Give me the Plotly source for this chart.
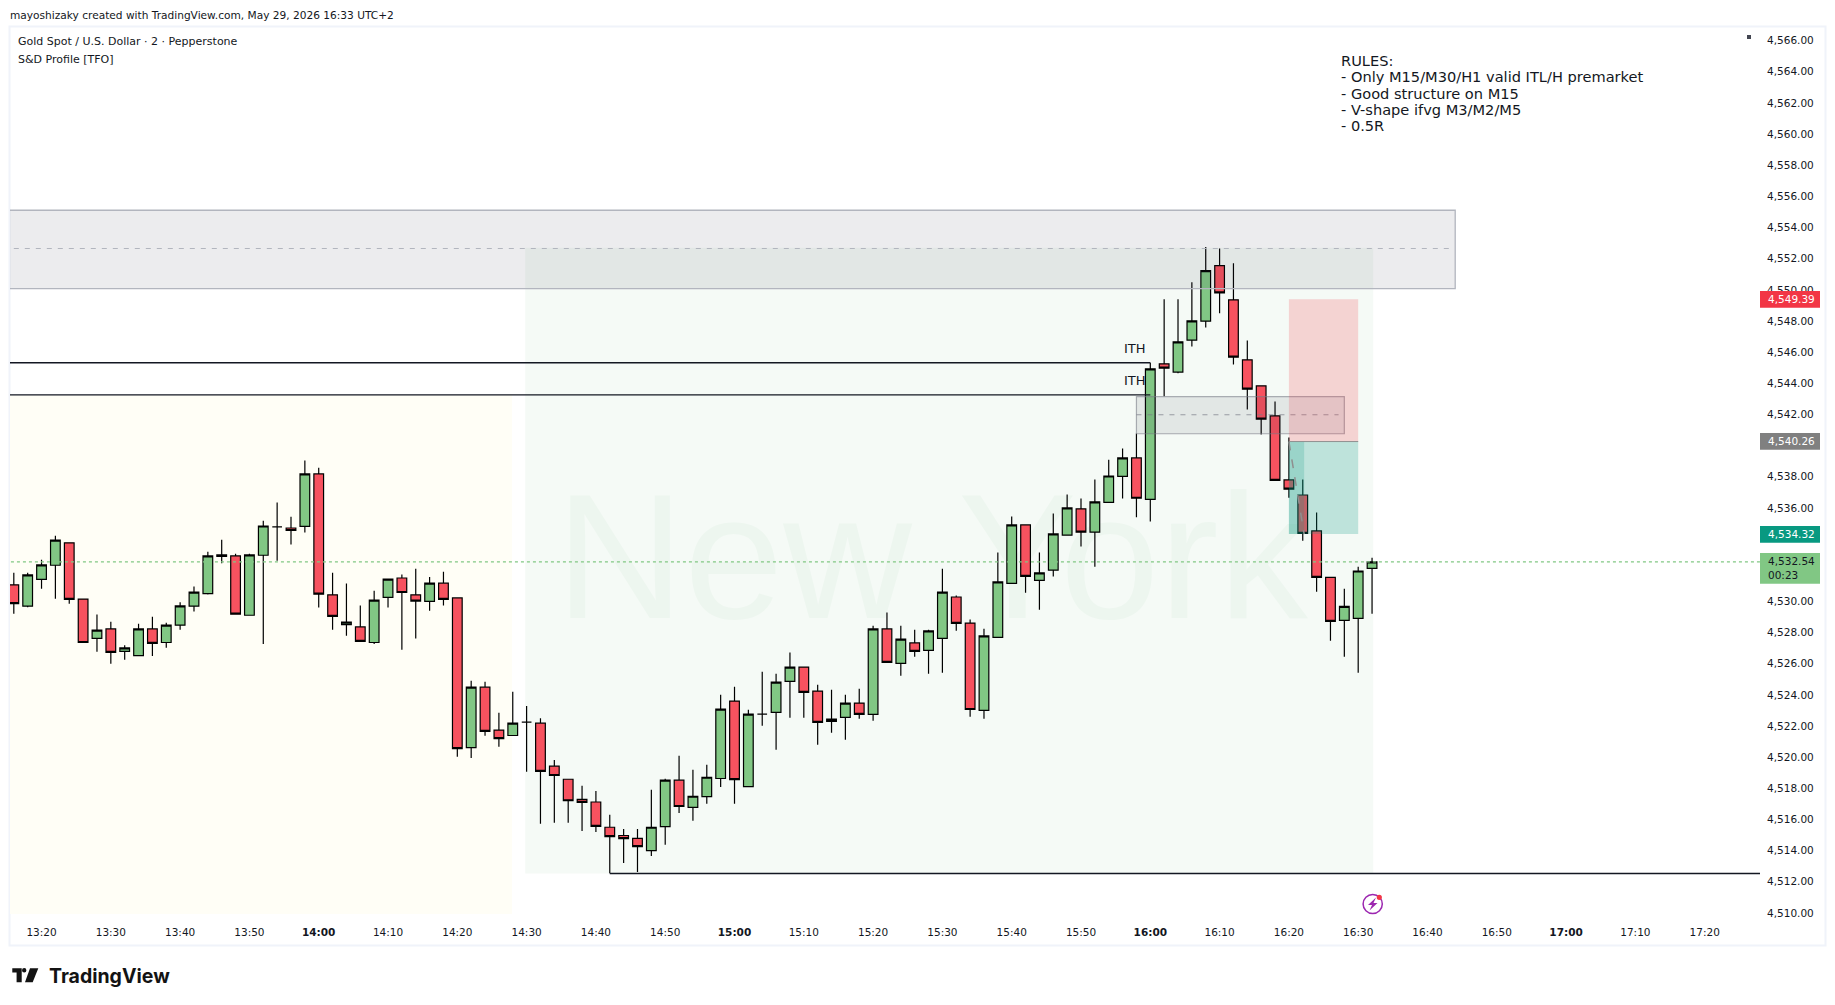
import pandas as pd
import plotly.graph_objects as go

open_ = [4531.06,4529.69,4531.41,4532.32,4533.76,4530.15,4527.63,4528.23,4526.79,4526.52,4528.23,4527.36,4528.47,4529.69,4530.50,4532.98,4532.92,4529.11,4532.96,4534.78,4534.71,4534.82,4538.18,4530.42,4528.51,4528.36,4527.36,4530.26,4531.50,4530.42,4530.00,4531.17,4530.22,4520.61,4524.49,4521.74,4521.39,4522.25,4522.18,4519.42,4518.58,4517.29,4517.12,4515.50,
 4514.97,4514.79,4514.00,4515.54,4518.52,4516.77,4517.47,4518.63,4523.60,4518.11,4522.76,4522.87,4524.86,4525.78,4524.24,4522.29,4522.55,4523.47,4522.74,4528.23,4526.02,4527.33,4526.86,4527.63,4530.28,4528.61,4523.00,4527.69,4531.16,4534.91,4531.35,4532.00,4534.25,4535.94,4534.44,
 4536.36,4538.03,4539.21,4536.55,4545.25,4544.72,4546.77,4547.99,4551.55,4549.36,4545.51,4543.84,4541.91,4537.80,4536.83,4534.52,4531.54,4528.78,4528.91,4532.12]
high = [4531.83,4531.83,4532.67,4534.22,4533.76,4530.15,4529.15,4528.69,4527.19,4528.56,4529.02,4528.62,4529.95,4530.95,4533.18,4533.96,4533.05,4533.05,4535.17,4536.35,4535.44,4539.05,4538.58,4531.83,4531.15,4529.73,4530.68,4531.43,4531.72,4532.10,4531.57,4531.90,4530.22,4524.91,4524.84,4522.85,4524.20,4523.29,4522.49,4519.82,4518.58,4518.16,4517.82,4516.30,
 4515.39,4515.39,4517.90,4518.61,4520.09,4519.19,4519.51,4524.01,4524.52,4523.04,4525.48,4525.36,4526.71,4525.78,4524.65,4524.33,4524.01,4524.39,4528.44,4529.28,4528.44,4528.18,4528.18,4532.10,4530.37,4528.83,4528.25,4533.13,4535.45,4534.91,4533.13,4535.64,4536.86,4536.60,4537.82,
 4539.10,4539.81,4540.77,4545.32,4549.39,4549.39,4550.48,4552.75,4552.66,4551.70,4546.75,4543.84,4542.83,4540.52,4537.82,4535.70,4531.54,4530.81,4532.23,4532.80]
low = [4529.20,4529.62,4530.81,4530.17,4529.84,4527.36,4526.76,4525.99,4526.26,4526.52,4526.50,4527.03,4528.18,4529.35,4530.44,4532.45,4529.18,4529.11,4527.27,4532.61,4533.65,4534.42,4529.60,4528.18,4527.80,4527.43,4527.27,4529.60,4526.90,4527.61,4529.40,4529.73,4520.02,4519.95,4521.37,4520.66,4521.39,4519.06,4515.72,4515.79,4515.79,4515.26,4515.19,4512.54,
 4513.21,4512.63,4513.66,4514.37,4516.42,4515.91,4517.00,4518.09,4517.00,4518.11,4522.01,4520.47,4522.53,4522.53,4520.79,4521.56,4521.11,4522.46,4522.34,4526.08,4525.23,4526.45,4525.36,4525.42,4528.12,4522.59,4522.46,4527.69,4531.16,4530.56,4529.47,4531.59,4534.25,4533.52,4532.23,
 4536.36,4536.60,4535.40,4535.12,4543.17,4544.65,4546.37,4547.59,4548.49,4545.21,4542.32,4540.71,4537.77,4536.66,4533.90,4530.62,4527.47,4526.44,4525.41,4529.21]
close = [4529.86,4531.70,4532.34,4533.93,4530.13,4527.36,4528.16,4526.72,4527.01,4528.23,4527.30,4528.47,4529.71,4530.59,4532.92,4532.89,4529.18,4532.98,4534.84,4534.78,4534.55,4538.18,4530.46,4529.04,4528.67,4527.43,4530.08,4531.43,4530.57,4530.02,4531.17,4530.13,4520.55,4524.49,4521.65,4521.19,4522.18,4522.25,4519.09,4518.82,4517.20,4517.09,4515.55,4514.90,
 4514.77,4514.26,4515.50,4518.52,4516.83,4517.49,4518.71,4523.08,4518.56,4522.76,4522.76,4524.82,4525.78,4524.16,4522.23,4522.44,4523.47,4522.74,4528.23,4526.08,4527.58,4526.79,4528.10,4530.60,4528.59,4523.06,4527.78,4531.25,4534.91,4531.61,4531.83,4534.33,4536.00,4534.44,4536.39,
 4538.05,4539.21,4536.62,4544.93,4544.97,4546.66,4548.01,4551.23,4549.81,4545.68,4543.62,4541.70,4537.77,4537.20,4534.37,4531.54,4528.71,4529.68,4531.95,4532.54]
times = pd.date_range("2026-05-29 13:16", periods=len(close), freq="2min").strftime("%Y-%m-%d %H:%M:%S").tolist()

y_ticks = [4566,4564,4562,4560,4558,4556,4554,4552,4550,4548,4546,4544,4542,4538,4536,4530,4528,4526,4524,4522,4520,4518,4516,4514,4512,4510]
x_tick_times = ["13:20","13:30","13:40","13:50","14:00","14:10","14:20","14:30","14:40","14:50","15:00","15:10","15:20","15:30","15:40","15:50","16:00","16:10","16:20","16:30","16:40","16:50","17:00","17:10","17:20"]
rules = ["RULES:","- Only M15/M30/H1 valid ITL/H premarket","- Good structure on M15","- V-shape ifvg M3/M2/M5","- 0.5R"]

DAY = "2026-05-29 "
TEXT = "#131722"
FONT = "DejaVu Sans"
L, R, T, B = 10, 1760, 28, 914
X_RANGE = [DAY + "13:15:27", DAY + "17:27:59"]
Y_RANGE = [4509.93, 4566.81]
ZONE_FILL = "rgba(45,48,70,0.09)"

def px(v): return (v - L) / (R - L)
def py(v): return (B - v) / (B - T)

shapes, anns = [], []

def rect(x0, x1, y0, y1, fill, line=None, w=1, layer="above"):
    shapes.append(dict(type="rect", xref="x", yref="y", x0=DAY + x0, x1=DAY + x1, y0=y0, y1=y1, fillcolor=fill,
                       line=dict(color=line, width=w) if line else dict(width=0), layer=layer))

def hline(x0, x1, y, color, w=1.2, dash="solid", layer="above"):
    shapes.append(dict(type="line", xref="x", yref="y", x0=DAY + x0, x1=DAY + x1, y0=y, y1=y,
                       line=dict(color=color, width=w, dash=dash), layer=layer))

def box_px(x0, x1, y0, y1, fill):
    shapes.append(dict(type="rect", xref="paper", yref="paper", x0=px(x0), x1=px(x1), y0=py(y0), y1=py(y1),
                       fillcolor=fill, line=dict(width=0), layer="above"))

def label(x, y, text, size=10.5, color=TEXT, family=FONT, anchor="left"):
    anns.append(dict(xref="paper", yref="paper", x=px(x), y=py(y), text=text, showarrow=False, xanchor=anchor, yanchor="middle",
                     font=dict(size=size, color=color, family=family), align="left", borderpad=0, borderwidth=0))

def path_px(points, fill):
    d = "M " + " L ".join(f"{px(a):.5f},{py(b):.5f}" for a, b in points) + " Z"
    shapes.append(dict(type="path", xref="paper", yref="paper", path=d, fillcolor=fill, line=dict(width=0), layer="above"))

def circle_px(cx, cy, r, fill, line=None, w=1):
    shapes.append(dict(type="circle", xref="paper", yref="paper", x0=px(cx - r), x1=px(cx + r), y0=py(cy + r), y1=py(cy - r),
                       fillcolor=fill, line=dict(color=line, width=w) if line else dict(width=0), layer="above"))

# session backgrounds, below everything
rect("13:00", "14:27:54", 4509.93, 4543.26, "#fffef6", layer="below")
rect("14:29:48", "16:32:10", 4512.53, 4552.70, "#f5faf6", layer="below")

# last price dotted line
hline("13:00", "17:40", 4532.54, "#81c784", 1.2, "dot")

# zones
rect("13:00", "16:44", 4550.08, 4555.11, ZONE_FILL, "#b2b5be", 1.3)
hline("13:16", "16:43:20", 4552.65, "#b2b5be", 1.1, "5px,6px")
rect("15:58", "16:28", 4540.76, 4543.14, ZONE_FILL, "rgba(120,123,134,0.6)", 1.2)
hline("15:58", "16:27:10", 4541.98, "rgba(120,123,134,0.7)", 1.1, "5px,6px")

# position tool
rect("16:20", "16:30", 4540.26, 4549.39, "rgba(242,54,69,0.2)")
rect("16:20", "16:30", 4534.32, 4540.26, "rgba(8,153,129,0.23)")
rect("16:20", "16:22:12", 4534.32, 4540.26, "rgba(8,153,129,0.2)")
hline("16:20", "16:30", 4540.26, "#8f8f8f", 1)
shapes.append(dict(type="line", xref="x", yref="y", x0=DAY + "16:20", x1=DAY + "16:22:12", y0=4540.26, y1=4534.32,
                   line=dict(color="#8f8f8f", width=1.5, dash="dash"), layer="above"))

# horizontal levels
hline("13:00", "16:00", 4545.32, "#131722", 1.3)
hline("13:00", "16:00", 4543.26, "#131722", 1.3)
hline("14:42", "17:40", 4512.53, "#131722", 1.3)

# frame
shapes.append(dict(type="rect", xref="paper", yref="paper", x0=px(9.5), x1=px(1825.5), y0=py(945.5), y1=py(26.5),
                   line=dict(color="#f0f3fa", width=2), fillcolor="rgba(0,0,0,0)", layer="below"))

# price pills
box_px(1760, 1820, 291, 307.7, "#f23645")
box_px(1760, 1820, 433, 449.7, "#808080")
box_px(1760, 1820, 526, 542.7, "#089981")
box_px(1760, 1820, 553, 583.7, "#81c784")
label(1767.5, 299.3, "4,549.39", color="#ffffff")
label(1767.5, 441.3, "4,540.26", color="#ffffff")
label(1767.5, 534.3, "4,534.32", color="#ffffff")
label(1767.5, 561, "4,532.54")
label(1767.5, 575, "00:23")

# small status square
box_px(1747, 1751, 35, 39, "#434651")

# header and legend
label(10, 14.7, "mayoshizaky created with TradingView.com, May 29, 2026 16:33 UTC+2", size=10.6)
label(18, 42, "Gold Spot / U.S. Dollar · 2 · Pepperstone", size=11)
label(18, 59, "S&amp;D Profile [TFO]", size=11)

# rules text
for yy, line in zip([60.7, 77, 93, 109.5, 125.5], rules):
    label(1340.5, yy, line, size=14.6)

label(1124, 348.5, "ITH", size=13)
label(1124, 381, "ITH", size=13)

# flash icon
circle_px(1372.7, 904, 9.6, "rgba(0,0,0,0)", "#9c27b0", 1.5)
path_px([(1376, 897.5), (1368, 905), (1372, 905), (1369.5, 910.5), (1377.5, 903), (1373.5, 903)], "#9c27b0")
circle_px(1379.3, 897.3, 2.6, "#f23645")

# TradingView logo
path_px([(12.3, 968.3), (21.7, 968.3), (21.7, 982.3), (16.6, 982.3), (16.6, 972.6), (12.3, 972.6)], "#131313")
circle_px(24.2, 970.3, 2.2, "#131313")
path_px([(30, 968.3), (38.3, 968.3), (32.7, 982.3), (25, 982.3)], "#131313")
label(49, 975.5, "<b>TradingView</b>", size=19.5, color="#131313", family="Inter")

fig = go.Figure()
fig.add_trace(go.Scatter(x=[DAY + "15:28:27"], y=[4531.8], mode="text", text=["New York"], textposition="middle center",
                         textfont=dict(size=178, color="#edf6ef", family="Liberation Sans"), hoverinfo="skip", showlegend=False))
fig.add_trace(go.Candlestick(x=times, open=open_, high=high, low=low, close=close, xaxis="x2", yaxis="y2", showlegend=False,
                             whiskerwidth=0,
                             increasing=dict(fillcolor="#81c784", line=dict(color="#000000", width=1.2)),
                             decreasing=dict(fillcolor="#f7525f", line=dict(color="#000000", width=1.2))))

tickfont = dict(size=10.5, color=TEXT, family=FONT)
x_text = [f"<b>{t}</b>" if t.endswith(":00") else t for t in x_tick_times]
fig.update_layout(
    width=1835, height=1005, margin=dict(l=L, r=1835 - R, t=T, b=1005 - B), autosize=False,
    paper_bgcolor="#ffffff", plot_bgcolor="#ffffff", showlegend=False, boxgap=0.3, boxgroupgap=0,
    shapes=shapes, annotations=anns,
    xaxis=dict(type="date", range=X_RANGE, tickvals=[DAY + t for t in x_tick_times], ticktext=x_text, showgrid=False, zeroline=False,
               showline=False, ticks="", ticklabelstandoff=10, tickfont=tickfont, rangeslider=dict(visible=False)),
    yaxis=dict(range=Y_RANGE, side="right", tickvals=y_ticks, ticktext=[f"{v:,.2f}" for v in y_ticks], showgrid=False, zeroline=False,
               showline=False, ticks="", ticklabelstandoff=6, tickfont=tickfont),
    xaxis2=dict(type="date", range=X_RANGE, overlaying="x", visible=False, rangeslider=dict(visible=False)),
    yaxis2=dict(range=Y_RANGE, overlaying="y", visible=False),
)
fig.write_html("out.html", config=dict(displayModeBar=False),
               post_script="document.body.style.margin='0';document.documentElement.style.overflow='hidden';")
